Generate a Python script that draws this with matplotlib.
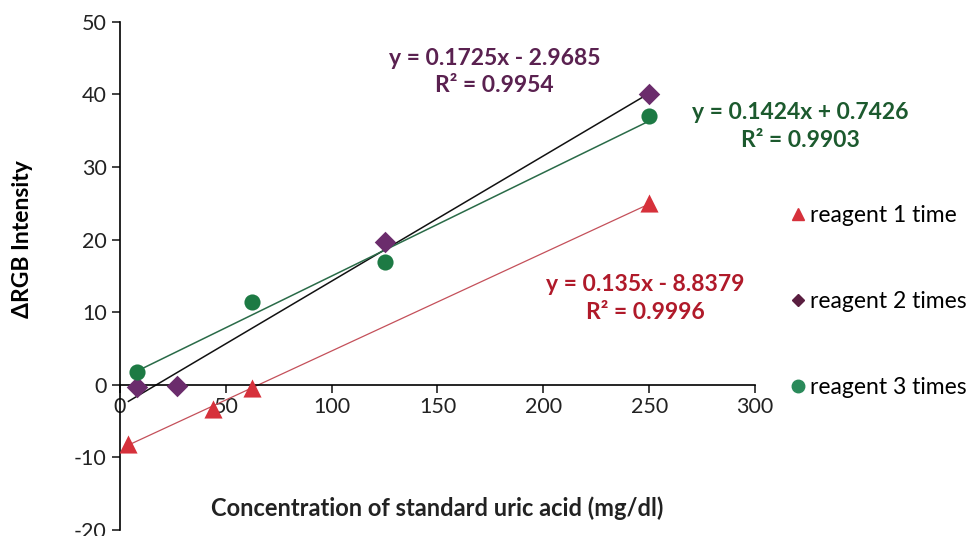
import numpy as np
import matplotlib.pyplot as plt
from matplotlib.lines import Line2D

plt.rcParams['font.family'] = ['Lato', 'DejaVu Sans']
plt.rcParams['axes.unicode_minus'] = False

# Measured points for each number of reagent additions
x_r1 = [4, 44, 62.5, 250]
y_r1 = [-8.1, -3.3, -0.5, 25.1]
x_r2 = [8, 27, 125, 250]
y_r2 = [-0.3, -0.1, 19.7, 40.1]
x_r3 = [8, 62.5, 125, 250]
y_r3 = [1.8, 11.4, 16.9, 37.0]

# Linear trendlines (slope, intercept, R^2) and the x span they cover
fit_r1 = (0.135, -8.8379, 0.9996)
fit_r2 = (0.1725, -2.9685, 0.9954)
fit_r3 = (0.1424, 0.7426, 0.9903)
span_r1 = (4, 250)
span_r2 = (4, 250)
span_r3 = (8, 250)

labels = ['reagent 1 time', 'reagent 2 times', 'reagent 3 times']

red, purple, green = '#d6313b', '#6b2c6c', '#1d7a44'

fig = plt.figure(figsize=(9.8, 5.36), dpi=100)
ax = fig.add_axes([0.1224, 0.0112, 0.648, 0.948])

def trend(fit, span, color, lw):
    xs = np.array(span)
    ax.plot(xs, fit[0] * xs + fit[1], color=color, lw=lw, zorder=2)

trend(fit_r1, span_r1, '#c4505a', 0.9)
trend(fit_r2, span_r2, '#111111', 1.1)
trend(fit_r3, span_r3, '#2a6b48', 1.1)

ax.scatter(x_r1, y_r1, marker='^', s=170, color=red, zorder=3, linewidths=0)
ax.scatter(x_r2, y_r2, marker='D', s=120, color=purple, zorder=3, linewidths=0)
ax.scatter(x_r3, y_r3, marker='o', s=135, color=green, zorder=3, linewidths=0)

def eq_text(fit, x, y, color):
    sign = '-' if fit[1] < 0 else '+'
    s = f'y = {fit[0]:g}x {sign} {abs(fit[1]):g}\nR² = {fit[2]:.4f}'
    ax.text(x, y, s, color=color, fontsize=16.5, fontweight='bold',
            ha='center', va='center', linespacing=1.4, clip_on=False)

eq_text(fit_r2, 177, 43.1, '#5a2150')
eq_text(fit_r3, 321.5, 35.6, '#1c5a2e')
eq_text(fit_r1, 248, 11.9, '#b01a2a')

ax.set_xlim(0, 300)
ax.set_ylim(-20, 50)
ax.set_xticks(np.arange(0, 301, 50))
ax.set_yticks(np.arange(-20, 51, 10))
ax.spines['bottom'].set_position(('data', 0))
ax.spines['top'].set_visible(False)
ax.spines['right'].set_visible(False)
for sp in ('bottom', 'left'):
    ax.spines[sp].set_linewidth(1.2)
ax.tick_params(axis='both', direction='out', length=6, width=1.2,
               labelsize=15.5, colors='#222222')
ax.tick_params(axis='x', pad=3)
ax.set_ylabel('ΔRGB Intensity', fontsize=16.5, fontweight='bold',
              va='center')
ax.yaxis.set_label_coords(-0.154, 0.573)
ax.text(150, -17.0, 'Concentration of standard uric acid (mg/dl)',
        fontsize=17, fontweight='bold', ha='center', va='center', color='#222222')

handles = [
    Line2D([], [], marker='^', color=red, ls='none', ms=9),
    Line2D([], [], marker='D', color='#5a1e40', ls='none', ms=6.5),
    Line2D([], [], marker='o', color='#2a8a5a', ls='none', ms=9),
]
ax.legend(handles, labels, loc='upper left', bbox_to_anchor=(1.035, 0.657),
          frameon=False, fontsize=16.5, handletextpad=0.05, handlelength=1.0,
          labelspacing=2.82, borderaxespad=0)

fig.savefig('out.png', dpi=100)
